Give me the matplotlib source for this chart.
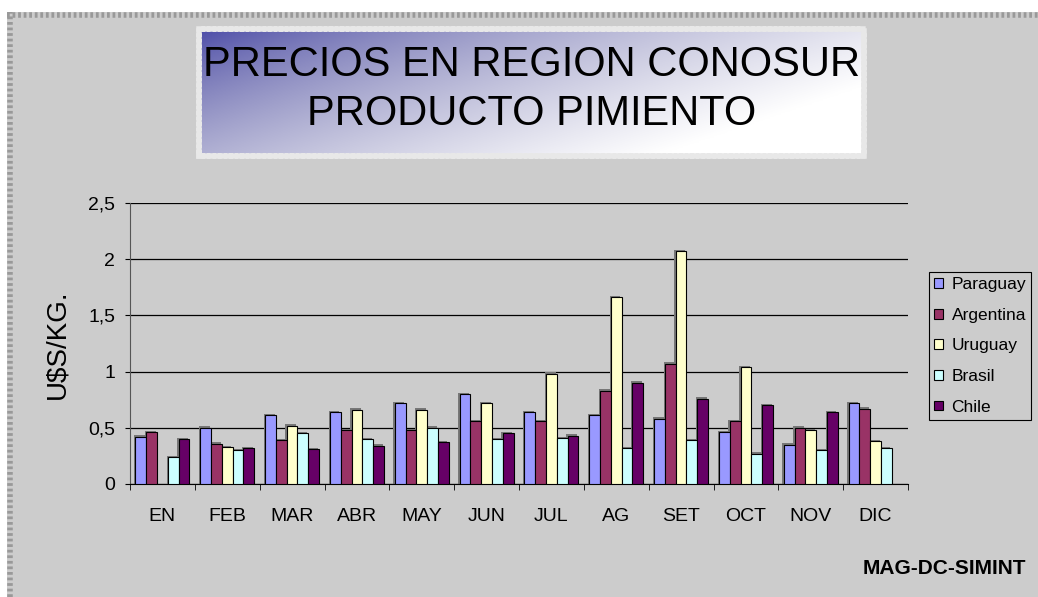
import numpy as np
import matplotlib.pyplot as plt
from matplotlib.patches import Rectangle
from matplotlib.lines import Line2D

plt.rcParams['font.family'] = ['Liberation Sans', 'DejaVu Sans']

meses = ["EN", "FEB", "MAR", "ABR", "MAY", "JUN", "JUL", "AG", "SET", "OCT", "NOV", "DIC"]
paraguay = [0.42, 0.50, 0.61, 0.64, 0.72, 0.80, 0.64, 0.61, 0.58, 0.46, 0.35, 0.72]
argentina = [0.46, 0.36, 0.39, 0.48, 0.48, 0.56, 0.56, 0.83, 1.07, 0.56, 0.50, 0.67]
uruguay = [np.nan, 0.33, 0.52, 0.66, 0.66, 0.72, 0.98, 1.66, 2.07, 1.04, 0.48, 0.38]
brasil = [0.24, 0.30, 0.45, 0.40, 0.50, 0.40, 0.41, 0.32, 0.39, 0.27, 0.30, 0.32]
chile = [0.40, 0.32, 0.31, 0.34, 0.37, 0.45, 0.43, 0.90, 0.76, 0.70, 0.64, np.nan]

paises = ["Paraguay", "Argentina", "Uruguay", "Brasil", "Chile"]
series = [paraguay, argentina, uruguay, brasil, chile]
colores = ["#9999FF", "#993366", "#FFFFCC", "#CCFFFF", "#660066"]

W, H = 1038, 597
fondo = "#CCCCCC"
fig = plt.figure(figsize=(W / 100, H / 100), dpi=100, facecolor="white")

# area gris del grafico (recortada arriba y a la izquierda) con borde punteado
fig.patches.append(Rectangle((7 / W, 0), 1 - 7 / W, 1 - 12 / H, transform=fig.transFigure,
                             facecolor=fondo, edgecolor="none", zorder=-5))
fig.add_artist(Line2D([10 / W, 10 / W], [0, 1 - 12 / H], transform=fig.transFigure,
                      color="#999999", linewidth=4, linestyle=(0, (0.5, 0.5)), zorder=-4))
fig.add_artist(Line2D([7 / W, 1], [1 - 15 / H, 1 - 15 / H], transform=fig.transFigure,
                      color="#999999", linewidth=4, linestyle=(0, (0.5, 0.5)), zorder=-4))

# caja del titulo con degradado
ax_t = fig.add_axes([199 / W, 1 - 156 / H, (864 - 199) / W, (156 - 29) / H])
yy, xx = np.mgrid[0:1:100j, 0:1:300j]
t = np.clip(xx * 0.8 + yy * 0.45, 0, 1)
c0 = np.array([0x1C, 0x1C, 0x78]) / 255
c1 = np.array([1.0, 1.0, 1.0])
grad = c0[None, None, :] * (1 - t[..., None]) + c1[None, None, :] * t[..., None]
grad = grad ** 0.55
ax_t.imshow(grad, aspect="auto", extent=[0, 1, 0, 1], origin="upper")
ax_t.set_xlim(0, 1)
ax_t.set_ylim(0, 1)
ax_t.set_xticks([])
ax_t.set_yticks([])
for s in ax_t.spines.values():
    s.set_edgecolor("#E8E8E8")
    s.set_linestyle((0, (0.5, 0.5)))
    s.set_linewidth(4)
ax_t.text(0.5, 0.715, "PRECIOS EN REGION CONOSUR", ha="center", va="center", fontsize=30)
ax_t.text(0.5, 0.33, "PRODUCTO PIMIENTO", ha="center", va="center", fontsize=30)

# grafico de barras
ax = fig.add_axes([130 / W, 1 - 484 / H, (908 - 130) / W, (484 - 203) / H])
ax.set_facecolor(fondo)
x = np.arange(len(meses))
w = 1 / 6
for i, (nombre, vals, col) in enumerate(zip(paises, series, colores)):
    pos = x - 2 * w + i * w
    alto = np.array(vals, dtype=float)
    ax.bar(pos - 0.02, alto + 0.012, width=w, color="#777777", edgecolor="none", zorder=2)
    ax.bar(pos, alto, width=w, color=col, edgecolor="black", linewidth=0.8, label=nombre, zorder=3)

ax.set_xlim(-0.5, len(meses) - 0.5)
ax.set_ylim(0, 2.5)
ax.set_yticks(np.arange(0, 2.51, 0.5))
ax.set_yticklabels(["0", "0,5", "1", "1,5", "2", "2,5"], fontsize=14)
ax.yaxis.grid(True, color="black", linewidth=0.9)
ax.set_axisbelow(True)
ax.set_xticks(x)
ax.set_xticklabels(meses, fontsize=14)
ax.set_xticks(np.arange(-0.5, len(meses), 1), minor=True)
ax.tick_params(axis="x", which="major", length=0, pad=17.5)
ax.tick_params(axis="x", which="minor", length=4.5, direction="out")
ax.tick_params(axis="y", length=3.6, direction="out", pad=7)
for s in ["top", "right"]:
    ax.spines[s].set_visible(False)
ax.spines["left"].set_color("#555555")
ax.spines["bottom"].set_color("black")
fig.text(57 / W, 1 - 344 / H, "U$S/KG.", rotation=90, ha="center", va="center", fontsize=20)

leg = fig.legend(loc="upper left", bbox_to_anchor=(929 / W, 1 - 272 / H), fontsize=12.5,
                 frameon=True, fancybox=False, edgecolor="black", facecolor=fondo, framealpha=1,
                 handlelength=0.5, handleheight=0.5, handletextpad=0.5, labelspacing=0.9,
                 borderpad=0.3, borderaxespad=0)
leg.get_frame().set_linewidth(0.8)

fig.text(1026 / W, 1 - 568 / H, "MAG-DC-SIMINT", ha="right", va="center",
         fontsize=15, fontweight="bold")

fig.savefig("out.png", dpi=100, facecolor="white")
